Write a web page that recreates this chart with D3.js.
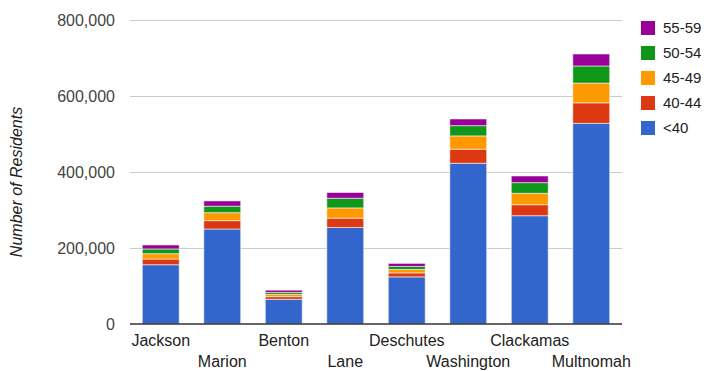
<!DOCTYPE html>
<html>
<head>
<meta charset="utf-8">
<script src="https://cdn.jsdelivr.net/npm/d3@7"></script>
<style>
  html, body { margin: 0; padding: 0; background: #fff; }
  svg { display: block; font-family: "Liberation Sans", Arial, sans-serif; }
</style>
</head>
<body>
<svg id="chart" width="704" height="371"></svg>
<script>
// Residents by county, split into age brackets
const counties = ["Jackson", "Marion", "Benton", "Lane", "Deschutes", "Washington", "Clackamas", "Multnomah"];
const ageGroups = ["<40", "40-44", "45-49", "50-54", "55-59"];
const under40  = [156000, 250000, 65000, 254000, 124000, 423000, 285000, 528000];
const age40_44 = [15000, 22000, 7000, 24500, 10500, 37000, 29000, 54000];
const age45_49 = [14000, 21000, 6000, 27000, 9000, 35000, 30000, 52000];
const age50_54 = [12500, 17000, 5000, 25500, 8000, 27000, 28000, 45000];
const age55_59 = [10500, 14000, 6000, 15000, 8000, 17500, 17500, 31500];
const yTicks = [0, 200000, 400000, 600000, 800000];
const colors = ["#3366cc", "#dc3912", "#ff9900", "#109618", "#990099"];

const seriesValues = [under40, age40_44, age45_49, age50_54, age55_59];
const rows = counties.map((c, i) => {
  const r = { county: c };
  ageGroups.forEach((g, k) => { r[g] = seriesValues[k][i]; });
  return r;
});

const svg = d3.select("#chart");
const plotLeft = 130, plotRight = 622, plotTop = 20, plotBottom = 324;

const x = d3.scaleBand().domain(counties).range([plotLeft, plotRight]).paddingInner(0.4).paddingOuter(0.2);
const y = d3.scaleLinear().domain([0, 800000]).range([plotBottom, plotTop]);

// gridlines
svg.append("g").selectAll("line")
  .data(yTicks.filter(t => t > 0))
  .join("line")
  .attr("x1", plotLeft).attr("x2", plotRight)
  .attr("y1", d => y(d)).attr("y2", d => y(d))
  .attr("stroke", "#cccccc").attr("stroke-width", 1)
  .attr("shape-rendering", "crispEdges");

// y axis labels
const yAxis = d3.axisLeft(y).tickValues(yTicks).tickSize(0).tickPadding(0)
  .tickFormat(d3.format(","));
const gy = svg.append("g").attr("transform", `translate(${plotLeft - 15},0)`).call(yAxis);
gy.select(".domain").remove();
gy.selectAll("text")
  .attr("font-size", 16).attr("fill", "#444").attr("font-family", "Liberation Sans, Arial, sans-serif")
  .attr("dy", "0.36em");

// y title
svg.append("text")
  .attr("transform", `translate(22,${(plotTop + plotBottom) / 2 + 10}) rotate(-90)`)
  .attr("text-anchor", "middle")
  .attr("font-size", 16).attr("font-style", "italic").attr("fill", "#222")
  .text("Number of Residents");

// stacked bars
const stacked = d3.stack().keys(ageGroups)(rows);
svg.append("g").selectAll("g")
  .data(stacked)
  .join("g")
  .attr("fill", (d, i) => colors[i])
  .selectAll("rect")
  .data(d => d)
  .join("rect")
  .attr("x", d => x(d.data.county))
  .attr("width", x.bandwidth())
  .attr("y", d => y(d[1]))
  .attr("height", d => y(d[0]) - y(d[1]))
  .attr("stroke", "#fff").attr("stroke-opacity", 0.55).attr("stroke-width", 1);

// baseline
svg.append("line")
  .attr("x1", plotLeft).attr("x2", plotRight)
  .attr("y1", y(0)).attr("y2", y(0))
  .attr("stroke", "#333").attr("stroke-width", 1.5);

// category labels, alternating rows
const xAxis = d3.axisBottom(x).tickSize(0).tickPadding(0);
const gx = svg.append("g").attr("transform", `translate(0,${plotBottom})`).call(xAxis);
gx.select(".domain").remove();
gx.selectAll("text")
  .attr("font-size", 16).attr("fill", "#222").attr("font-family", "Liberation Sans, Arial, sans-serif")
  .attr("dy", 0)
  .attr("y", (d, i) => i % 2 === 0 ? 22 : 43);

// legend, top entry is the oldest bracket
const legendItems = ageGroups.map((g, i) => ({ g, c: colors[i] })).reverse();
const legend = svg.append("g").selectAll("g")
  .data(legendItems)
  .join("g")
  .attr("transform", (d, i) => `translate(641,${28 + i * 25})`);
legend.append("rect")
  .attr("x", 0).attr("y", -7).attr("width", 14).attr("height", 14)
  .attr("fill", d => d.c);
legend.append("text")
  .attr("x", 22).attr("dy", "0.36em")
  .attr("font-size", 15).attr("fill", "#222")
  .text(d => d.g);
</script>
</body>
</html>
